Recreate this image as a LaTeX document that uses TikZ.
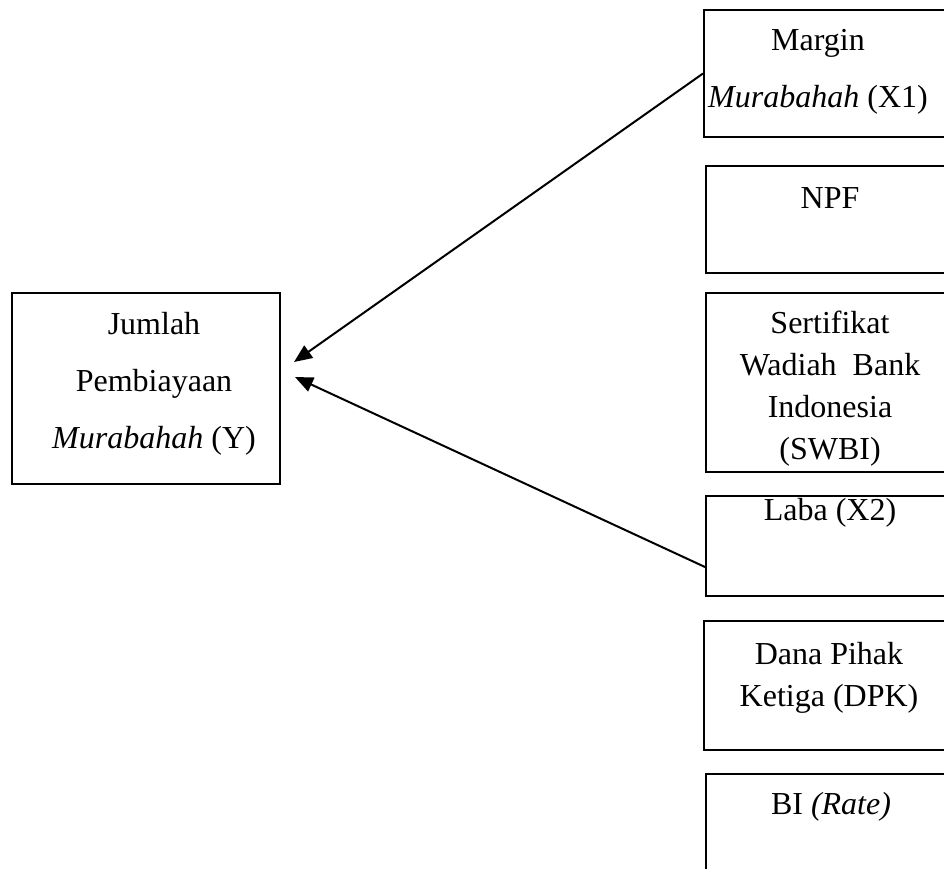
\documentclass[tikz,border=0pt]{standalone}
\usepackage{fontspec}
\setmainfont{Liberation Serif}
\usetikzlibrary{arrows.meta,calc}
\begin{document}
\begin{tikzpicture}[x=1pt,y=-1pt,
  box/.style={draw,line width=2pt,rectangle,inner sep=0,anchor=north west},
  txt/.style={align=center,inner sep=0,font=\fontsize{32}{42}\selectfont},
  wide/.style={font=\fontsize{32}{57}\selectfont},
  arr/.style={line width=2pt,-{Triangle[length=18pt,width=15pt]}}]
\useasboundingbox (0,0) rectangle (944,869);
\clip (0,0) rectangle (944,869);
% boxes
\node[box,minimum width=268pt,minimum height=191pt] (y) at (11,292) {};
\node[box,minimum width=260pt,minimum height=127pt] (x1) at (703,9) {};
\node[box,minimum width=260pt,minimum height=107pt] (npf) at (705,165) {};
\node[box,minimum width=260pt,minimum height=179pt] (swbi) at (705,292) {};
\node[box,minimum width=260pt,minimum height=100pt] (x2) at (705,495) {};
\node[box,minimum width=260pt,minimum height=129pt] (dpk) at (703,620) {};
\node[box,minimum width=260pt,minimum height=130pt] (bi) at (705,773) {};
% texts
\node[txt,wide] (ty) at (154,384) {Jumlah\\Pembiayaan\\\textit{Murabahah} (Y)};
\node[txt,wide] (tx1) at (818,72) {Margin\\\textit{Murabahah} (X1)};
\node[txt] (tnpf) at (830,198) {NPF};
\node[txt] (tswbi) at (830,389) {Sertifikat\\Wadiah\ \ Bank\\Indonesia\\(SWBI)};
\node[txt] (tx2) at (830,513) {Laba (X2)};
\node[txt] (tdpk) at (829,678) {Dana Pihak\\Ketiga (DPK)};
\node[txt] (tbi) at (831,807) {BI \textit{(Rate)}};
% arrows
\coordinate (t1) at (294,362);
\coordinate (t2) at (295,377);
\coordinate (s2) at ($(x2.west)+(0,21)$);
\draw[arr] (x1.west) -- (t1);
\draw[arr] (s2) -- (t2);
\end{tikzpicture}
\end{document}
